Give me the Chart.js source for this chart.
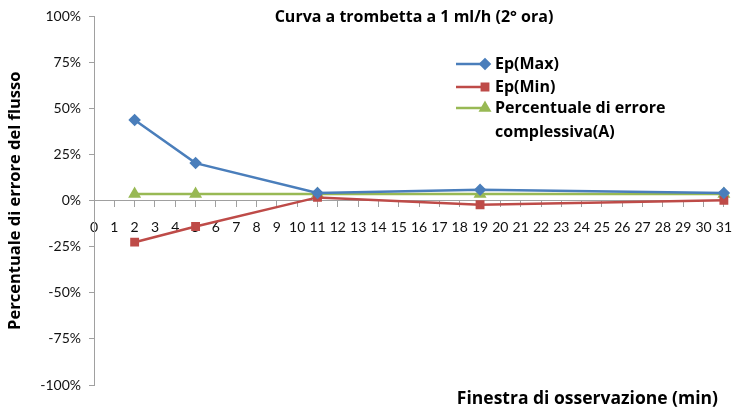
<!DOCTYPE html>
<html>
<head>
<meta charset="utf-8">
<script src="https://cdn.jsdelivr.net/npm/chart.js@4.4.0/dist/chart.umd.min.js"></script>
<style>
  html, body { margin: 0; padding: 0; background: #fff; }
  #wrap { width: 744px; height: 409px; position: relative; }
</style>
</head>
<body>
<div id="wrap"><canvas id="trumpet"></canvas></div>
<script>
// osservazione (min) e percentuali di errore
var minutes = [2, 5, 11, 19, 31];
var ep_max = [43.8, 20.4, 4.2, 5.9, 4.2];
var ep_min = [-22.5, -14, 1.8, -2.2, 0.2];
var err_a = [3.6, 3.6, 3.6, 3.6, 3.6];

var chart_title = 'Curva a trombetta a 1 ml/h (2° ora)';
var x_title = 'Finestra di osservazione (min)';
var y_title = 'Percentuale di errore del flusso';

var tick_font = 'Lato, "Open Sans", sans-serif';
var bold_font = '"Open Sans", Lato, sans-serif';

function to_points(ys) {
    return minutes.map((m, i) => ({x: m, y: ys[i]}));
}

// titolo, titolo asse x e legenda dentro il grafico
var extras = {
    id: 'extras',
    afterDraw(chart) {
        var ctx = chart.ctx;
        ctx.save();
        ctx.fillStyle = '#000';
        ctx.textBaseline = 'middle';
        ctx.font = 'bold 16px ' + bold_font;
        ctx.textAlign = 'center';
        ctx.fillText(chart_title, 414, 17);
        ctx.font = 'bold 17.5px ' + bold_font;
        ctx.textAlign = 'right';
        ctx.fillText(x_title, 718, 399);

        ctx.textAlign = 'left';
        ctx.font = 'bold 16px ' + bold_font;
        var rows = [64, 87, 108];
        chart.data.datasets.forEach(function(ds, i) {
            var y = rows[i];
            ctx.strokeStyle = ds.borderColor;
            ctx.lineWidth = 2.5;
            ctx.beginPath();
            ctx.moveTo(456, y);
            ctx.lineTo(484, y);
            ctx.stroke();
            Chart.helpers.drawPoint(ctx, {
                pointStyle: ds.pointStyle,
                radius: ds.pointRadius,
                borderWidth: 1
            }, 485, y);
            ctx.fillStyle = ds.borderColor;
            ctx.fill();
            ctx.fillStyle = '#000';
            var lines = [].concat(ds.legendText);
            lines.forEach(function(t, k) {
                ctx.fillText(t, 495, y + k * 24);
            });
        });
        ctx.restore();
    }
};

var data = {
    datasets: [{
        label: 'Ep(Max)',
        legendText: 'Ep(Max)',
        data: to_points(ep_max),
        borderColor: '#4A7EBB',
        backgroundColor: '#4A7EBB',
        borderWidth: 2.5,
        pointStyle: 'rectRot',
        pointRadius: 4.5
    }, {
        label: 'Ep(Min)',
        legendText: 'Ep(Min)',
        data: to_points(ep_min),
        borderColor: '#BE4B48',
        backgroundColor: '#BE4B48',
        borderWidth: 2.5,
        pointStyle: 'rect',
        pointRadius: 4.5
    }, {
        label: 'Percentuale di errore complessiva(A)',
        legendText: ['Percentuale di errore', 'complessiva(A)'],
        data: to_points(err_a),
        borderColor: '#98B954',
        backgroundColor: '#98B954',
        borderWidth: 2.5,
        pointStyle: 'triangle',
        pointRadius: 5
    }]
};

var config = {
    type: 'line',
    data: data,
    plugins: [extras],
    options: {
        responsive: false,
        animation: false,
        clip: false,
        layout: {
            padding: {top: 15, bottom: 24, right: 13, left: 0}
        },
        plugins: {
            legend: {display: false},
            title: {display: false},
            tooltip: {enabled: false}
        },
        scales: {
            x: {
                type: 'linear',
                min: 0,
                max: 31,
                position: {y: 0},
                grid: {
                    drawOnChartArea: false,
                    drawTicks: true,
                    tickLength: 6,
                    color: '#a0a0a0'
                },
                border: {color: '#a0a0a0'},
                ticks: {
                    stepSize: 1,
                    autoSkip: false,
                    maxRotation: 0,
                    padding: 12,
                    color: '#111',
                    font: {family: tick_font, size: 14}
                }
            },
            y: {
                min: -100,
                max: 100,
                afterFit(scale) {
                    scale.width = 94;
                },
                grid: {
                    drawOnChartArea: false,
                    drawTicks: true,
                    tickLength: 5,
                    color: '#a0a0a0'
                },
                border: {color: '#a0a0a0'},
                ticks: {
                    stepSize: 25,
                    padding: 8,
                    color: '#111',
                    font: {family: tick_font, size: 14},
                    callback: (v) => v + '%'
                },
                title: {
                    display: true,
                    text: y_title,
                    color: '#000',
                    padding: {top: 5, bottom: 0},
                    font: {family: bold_font, size: 16.5, weight: 'bold'}
                }
            }
        }
    }
};

var canvas = document.getElementById('trumpet');
canvas.width = 744;
canvas.height = 409;
new Chart(canvas, config);
</script>
</body>
</html>
